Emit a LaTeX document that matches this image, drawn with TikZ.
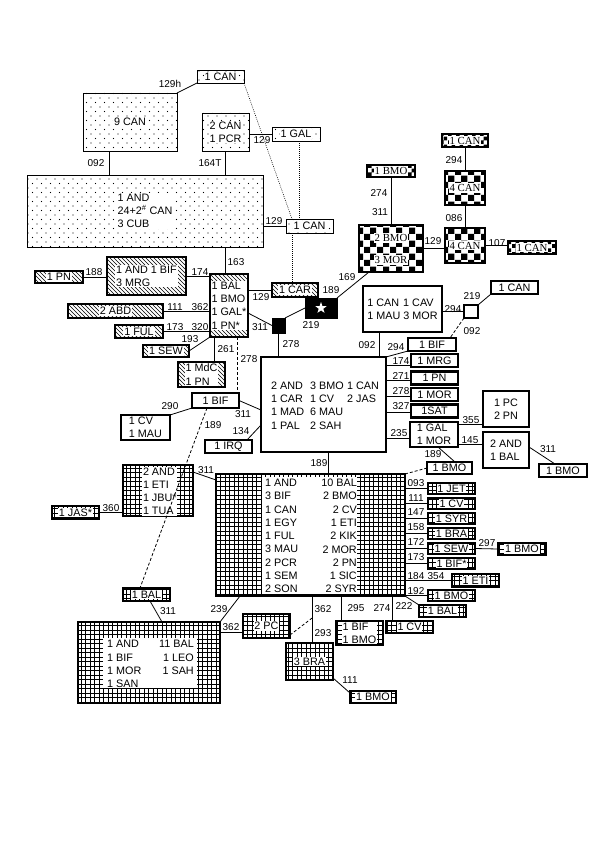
\documentclass[tikz,border=0pt]{standalone}
\usepackage{fontspec}
\setmainfont{Liberation Sans}
\newfontfamily\serifff{Liberation Serif}
\usetikzlibrary{patterns,shapes.geometric,calc}
\pgfdeclarepatternformonly{mydots}{\pgfqpoint{-1pt}{-1pt}}{\pgfqpoint{10pt}{10pt}}{\pgfqpoint{9pt}{9pt}}{\pgfpathcircle{\pgfqpoint{1pt}{1pt}}{0.55pt}\pgfpathcircle{\pgfqpoint{5.5pt}{5.5pt}}{0.55pt}\pgfusepath{fill}}
\pgfdeclarepatternformonly{myhatch}{\pgfqpoint{-1pt}{-1pt}}{\pgfqpoint{5pt}{5pt}}{\pgfqpoint{4pt}{4pt}}{\pgfsetlinewidth{0.6pt}\pgfpathmoveto{\pgfqpoint{0pt}{4pt}}\pgfpathlineto{\pgfqpoint{4.1pt}{-0.1pt}}\pgfusepath{stroke}}
\pgfdeclarepatternformonly{mygrid}{\pgfqpoint{-1pt}{-1pt}}{\pgfqpoint{5.5pt}{5.5pt}}{\pgfqpoint{4.5pt}{4.5pt}}{\pgfsetlinewidth{0.7pt}\pgfpathmoveto{\pgfqpoint{0pt}{-0.1pt}}\pgfpathlineto{\pgfqpoint{0pt}{4.6pt}}\pgfpathmoveto{\pgfqpoint{-0.1pt}{0pt}}\pgfpathlineto{\pgfqpoint{4.6pt}{0pt}}\pgfusepath{stroke}}
\pgfdeclarepatternformonly{chkL}{\pgfpointorigin}{\pgfqpoint{13pt}{13pt}}{\pgfqpoint{13pt}{13pt}}{\pgfpathrectangle{\pgfpointorigin}{\pgfqpoint{6.5pt}{6.5pt}}\pgfpathrectangle{\pgfqpoint{6.5pt}{6.5pt}}{\pgfqpoint{6.5pt}{6.5pt}}\pgfusepath{fill}}
\pgfdeclarepatternformonly{chkS}{\pgfpointorigin}{\pgfqpoint{8pt}{8pt}}{\pgfqpoint{8pt}{8pt}}{\pgfpathrectangle{\pgfpointorigin}{\pgfqpoint{4pt}{4pt}}\pgfpathrectangle{\pgfqpoint{4pt}{4pt}}{\pgfqpoint{4pt}{4pt}}\pgfusepath{fill}}
\newcommand\bxfont{\fontsize{10.8}{13.3}\selectfont}
\newcommand\lbfont{\fontsize{10}{12}\selectfont}
\newcommand\chfont{\serifff\fontsize{10.8}{13}\selectfont}
\begin{document}
\begin{tikzpicture}[x=1pt,y=-1pt,
 bx/.style={draw, line width=0.9pt, inner sep=0pt, outer sep=0pt},
 dotbx/.style={bx, pattern=mydots},
 hatbx/.style={bx, line width=1.1pt, pattern=myhatch},
 grdbx/.style={bx, line width=1.8pt, pattern=mygrid},
 chkbx/.style={bx, line width=1.4pt, pattern=chkL},
 chksbx/.style={bx, line width=1.4pt, pattern=chkS},
 thkbx/.style={bx, line width=2.4pt, fill=white, font=\bxfont},
 blkbx/.style={bx, fill=black},
 txt/.style={inner sep=0.8pt, fill=white, font=\bxfont, align=left},
 txtone/.style={inner sep=0.8pt, fill=white, font=\bxfont, text height=7.8pt, text depth=0.4pt},
 ctxt/.style={inner sep=0.8pt, fill=white, font=\chfont, text height=7.4pt, text depth=0.3pt},
 ptxt/.style={inner sep=0pt, font=\bxfont, align=left},
 lb/.style={inner sep=0pt, font=\lbfont},
 ln/.style={line width=0.8pt},
 dashln/.style={line width=0.8pt, dash pattern=on 3pt off 2pt},
 dotln/.style={line width=0.6pt, dash pattern=on 0.8pt off 1.2pt}]
\useasboundingbox (0,0) rectangle (600,864);
\fill[white] (0,0) rectangle (600,864);

% ---------- dotted boxes
\node[dotbx, minimum width=47, minimum height=13] (can1) at (220.5,76.5) {};
\node[txtone] (can1t) at (can1) {1 CAN};
\node[dotbx, minimum width=94, minimum height=58] (can9) at (130,122) {};
\node[txtone] (can9t) at (can9) {9 CAN};
\node[dotbx, minimum width=47, minimum height=38] (canpcr) at (225.5,132) {};
\node[txt] (canpcrt) at (canpcr) {2 CAN\\1 PCR};
\node[dotbx, minimum width=48, minimum height=14] (gal1) at (296,134) {};
\node[txtone] (gal1t) at (gal1) {1 GAL};
\node[dotbx, minimum width=236, minimum height=72] (big) at (145,211) {};
\node[txt] (bigt) at (big) {1 AND\\24+2\textsuperscript{\#} CAN\\3 CUB};
\node[dotbx, minimum width=47, minimum height=14] (can2) at (309.5,226) {};
\node[txtone] (can2t) at (can2) {1 CAN};

% ---------- hatched boxes
\node[hatbx, minimum width=48, minimum height=12] (pn1) at (59,277) {};
\node[txtone] (pn1t) at (pn1) {1 PN};
\node[hatbx, minimum width=79, minimum height=38] (andbif) at (146.5,276) {};
\node[txt] (andbift) at (andbif) {1 AND 1 BIF\\3 MRG};
\node[hatbx, minimum width=38, minimum height=63] (bal) at (229,305.5) {};
\node[txt] (balt) at (bal) {1 BAL\\1 BMO\\1 GAL*\\1 PN*};
\node[hatbx, minimum width=95, minimum height=14] (abd) at (115.5,311) {};
\node[txtone] (abdt) at (abd) {2 ABD};
\node[hatbx, minimum width=48, minimum height=13] (ful) at (139,331.5) {};
\node[txtone] (fult) at (ful) {1 FUL};
\node[hatbx, minimum width=46, minimum height=12] (sew) at (166,351) {};
\node[txtone] (sewt) at (sew) {1 SEW};
\node[hatbx, minimum width=47, minimum height=25] (mdc) at (201.5,374.5) {};
\node[txt] (mdct) at (mdc) {1 MdC\\1 PN};
\node[hatbx, minimum width=46, minimum height=14] (car) at (295,290) {};
\node[txtone] (cart) at (car) {1 CAR};

% ---------- black boxes
\node[blkbx, minimum width=13, minimum height=15] (sq) at (278.5,325.5) {};
\node[blkbx, minimum width=32, minimum height=20] (star) at (321,308) {};
\node[star, star points=5, star point ratio=2.5, fill=white, inner sep=0pt, minimum size=12pt] (starsym) at (star) {};

% ---------- checker boxes
\node[chksbx, minimum width=48, minimum height=12] (bmoc) at (391,171) {};
\node[ctxt] (bmoct) at (bmoc) {1 BMO};
\node[chkbx, minimum width=64, minimum height=47] (bmomor) at (391,248.5) {};
\node[ctxt] (bmomora) at (391,238) {2 BMO};
\node[ctxt] (bmomorb) at (391,260) {3 MOR};
\node[chkbx, minimum width=40, minimum height=34] (can4a) at (465,188) {};
\node[ctxt] (can4at) at (can4a) {4 CAN};
\node[chkbx, minimum width=40, minimum height=35] (can4b) at (465,245.5) {};
\node[ctxt] (can4bt) at (can4b) {4 CAN};
\node[chksbx, minimum width=46, minimum height=13] (canc1) at (465,140.5) {};
\node[ctxt] (canc1t) at (canc1) {1 CAN};
\node[chksbx, minimum width=48, minimum height=13] (canc2) at (532,247.5) {};
\node[ctxt] (canc2t) at (canc2) {1 CAN};

% ---------- white thick boxes
\node[thkbx, minimum width=125, minimum height=95] (main) at (323.5,404.5) {};
\node[ptxt, anchor=west] (mainc1) at (271,405.5) {2 AND\\1 CAR\\1 MAD\\1 PAL};
\node[ptxt, anchor=west] (mainc2) at (310,405.5) {3 BMO\\1 CV\\6 MAU\\2 SAH};
\node[ptxt, anchor=west] (mainc3) at (347,392) {1 CAN\\2 JAS};
\node[thkbx, minimum width=79, minimum height=46, align=left] (cancav) at (402.5,309) {1 CAN\hspace{4pt}1 CAV\\1 MAU 3 MOR};
\node[thkbx, minimum width=14, minimum height=13] (wsq) at (471,311.5) {};
\node[thkbx, minimum width=47, minimum height=13] (canr) at (514.5,287.5) {1 CAN};
\node[thkbx, minimum width=48, minimum height=13] (bif) at (432,344.5) {1 BIF};
\node[thkbx, minimum width=47, minimum height=13] (mrg) at (434.5,360.5) {1 MRG};
\node[thkbx, minimum width=47, minimum height=13] (pn2) at (434.5,378) {1 PN};
\node[thkbx, minimum width=47, minimum height=13] (mor) at (434.5,394.5) {1 MOR};
\node[thkbx, minimum width=47, minimum height=13] (sat) at (434.5,411) {1SAT};
\node[thkbx, minimum width=48, minimum height=25, align=left] (galmor) at (434,434.5) {1 GAL\\1 MOR};
\node[thkbx, minimum width=46, minimum height=36, align=center] (pc) at (506,409) {1 PC\\2 PN};
\node[thkbx, minimum width=46, minimum height=36, align=left] (andbal) at (506,450) {2 AND\\1 BAL};
\node[thkbx, minimum width=48, minimum height=13] (bmor) at (563,470.5) {1 BMO};
\node[thkbx, minimum width=45, minimum height=12] (bmo2) at (449.5,468) {1 BMO};
\node[thkbx, minimum width=47, minimum height=15] (bif2) at (215.5,400.5) {1 BIF};
\node[thkbx, minimum width=49, minimum height=25, align=left] (cvmau) at (145.5,427.5) {1 CV\\1 MAU};
\node[thkbx, minimum width=47, minimum height=13] (irq) at (228.5,446.5) {1 IRQ};

% ---------- grid boxes
\node[grdbx, minimum width=189, minimum height=122] (gbig) at (310.5,535) {};
\node[fill=white, inner sep=0pt, minimum width=95, minimum height=117] (gbigin) at (309.5,535.5) {};
\node[ptxt, anchor=west] (gbl) at (265,536) {1 AND\\3 BIF\\1 CAN\\1 EGY\\1 FUL\\3 MAU\\2 PCR\\1 SEM\\2 SON};
\node[ptxt, anchor=east, align=right] (gbr) at (357,536) {10 BAL\\2 BMO\\2 CV\\1 ETI\\2 KIK\\2 MOR\\2 PN\\1 SIC\\2 SYR};
\node[grdbx, minimum width=70, minimum height=51] (g2and) at (158,490.5) {};
\node[txt, anchor=west, font=\fontsize{10.8}{13}\selectfont] (g2andt) at (142,491.5) {2 AND\\1 ETI\\1 JBU*\\1 TUA};
\node[grdbx, minimum width=47, minimum height=13] (jas) at (75.5,512.5) {};
\node[txtone] (jast) at (jas) {1 JAS*};
\node[grdbx, minimum width=47, minimum height=13] (gbal1) at (146.5,594.5) {};
\node[txtone] (gbal1t) at (gbal1) {1 BAL};
\node[grdbx, minimum width=142, minimum height=81] (gll) at (149,662.5) {};
\node[fill=white, inner sep=0pt, minimum width=94, minimum height=50] (gllin) at (150,663) {};
\node[ptxt, anchor=west] (glll) at (107,664) {1 AND\\1 BIF\\1 MOR\\1 SAN};
\node[ptxt, anchor=east, align=right] (gllr) at (194,657.5) {11 BAL\\1 LEO\\1 SAH};
\node[grdbx, minimum width=47, minimum height=24] (pc2) at (266.5,626) {};
\node[txtone] (pc2t) at (pc2) {2 PC};
\node[grdbx, minimum width=47, minimum height=37] (bra3) at (309.5,661.5) {};
\node[txtone] (bra3t) at (bra3) {3 BRA};
\node[grdbx, minimum width=47, minimum height=24] (bifbmo) at (359.5,633) {};
\node[txt] (bifbmot) at (bifbmo) {1 BIF\\1 BMO};
\node[grdbx, minimum width=47, minimum height=12] (cv3) at (409.5,627) {};
\node[txtone] (cv3t) at (cv3) {1 CV};
\node[grdbx, minimum width=46, minimum height=12] (bmo3) at (373,697) {};
\node[txtone] (bmo3t) at (bmo3) {1 BMO};
\node[grdbx, minimum width=47, minimum height=11] (rjet) at (451.5,488.5) {};
\node[txtone] (rjett) at (rjet) {1 JET};
\node[grdbx, minimum width=47, minimum height=11] (rcv) at (451.5,503.5) {};
\node[txtone] (rcvt) at (rcv) {1 CV};
\node[grdbx, minimum width=47, minimum height=11] (rsyr) at (451.5,518.5) {};
\node[txtone] (rsyrt) at (rsyr) {1 SYR};
\node[grdbx, minimum width=47, minimum height=11] (rbra) at (451.5,533.5) {};
\node[txtone] (rbrat) at (rbra) {1 BRA};
\node[grdbx, minimum width=47, minimum height=11] (rsew) at (451.5,548.5) {};
\node[txtone] (rsewt) at (rsew) {1 SEW};
\node[grdbx, minimum width=47, minimum height=11] (rbif) at (451.5,563.5) {};
\node[txtone] (rbift) at (rbif) {1 BIF*};
\node[grdbx, minimum width=47, minimum height=13] (reti) at (475.5,580.5) {};
\node[txtone] (retit) at (reti) {1 ETI};
\node[grdbx, minimum width=47, minimum height=11] (rbmo) at (451.5,595.5) {};
\node[txtone] (rbmot) at (rbmo) {1 BMO};
\node[grdbx, minimum width=47, minimum height=12] (rbal) at (442.5,611) {};
\node[txtone] (rbalt) at (rbal) {1 BAL};
\node[grdbx, minimum width=48, minimum height=12] (bmo297) at (522,549) {};
\node[txtone] (bmo297t) at (bmo297) {1 BMO};

% ---------- helper coordinates
\coordinate (c9b) at ([xshift=-21pt]can9.south);
\coordinate (balT) at ([xshift=-4pt]bal.north);
\coordinate (balM) at ([xshift=-15pt]bal.south);
\coordinate (balD) at ([xshift=8pt]bal.south);
\coordinate (balG) at ([yshift=-7.5pt]bal.east);
\coordinate (bmT) at ([xshift=10pt]bmomor.south west);
\coordinate (cvB) at ([xshift=-23.5pt]cancav.south);
\coordinate (bifD) at ([xshift=-6pt]bif.north east);
\coordinate (mrgL) at ([yshift=-5pt]mrg.west);
\coordinate (pnL) at ([yshift=-2pt]pn2.west);
\coordinate (morL) at ([yshift=-1.5pt]mor.west);
\coordinate (satL) at ([yshift=-1pt]sat.west);
\coordinate (gmL) at ([yshift=-3.5pt]galmor.west);
\coordinate (gmA) at ([yshift=10pt]galmor.east);
\coordinate (gmB) at ([yshift=-10pt]galmor.east);
\coordinate (abR) at ([yshift=3pt]andbal.east);
\coordinate (bmrT) at ([xshift=16pt]bmor.north west);
\coordinate (gmS) at ([xshift=4pt]galmor.south);
\coordinate (bmo2T) at ([xshift=28pt]bmo2.north west);
\coordinate (mainA) at ([yshift=-5.5pt]main.west);
\coordinate (mainB) at ([yshift=-20.5pt]main.west);
\coordinate (irqT) at ([xshift=-5pt]irq.north east);
\coordinate (mainS) at ([xshift=4.5pt]main.south);
\coordinate (g2R) at ([yshift=-7pt]g2and.north east);
\coordinate (gbL) at ([yshift=-6pt]gbig.north west);
\coordinate (bif2B) at ([xshift=-8.5pt]bif2.south);
\coordinate (gb1T) at ([xshift=-6.5pt]gbal1.north);
\coordinate (gb1B) at ([xshift=3.5pt]gbal1.south);
\coordinate (gllT) at ([xshift=13pt]gll.north);
\coordinate (gbBL) at ([xshift=24pt]gbig.south west);
\coordinate (gllR) at ([yshift=30.5pt]gll.east);
\coordinate (b3T) at ([xshift=2.5pt]bra3.north);
\coordinate (b3M) at ($(b3T |- gbig.south)!0.47!(b3T)$);
\coordinate (pc2D) at ([yshift=3pt]pc2.south east);
\coordinate (b3R) at ([yshift=2pt]bra3.south east);
\coordinate (bmo3T) at ([yshift=-2pt]bmo3.north west);
\coordinate (bbT) at ([xshift=5pt]bifbmo.north west);
\coordinate (cv3T) at ([xshift=6pt]cv3.north west);
\coordinate (can2D) at ([xshift=6pt]can2.north west);
\coordinate (galD) at ([xshift=3pt]gal1.south);
\coordinate (can2B) at ([xshift=-17.5pt]can2.south);

% ---------- connectors
\draw[ln] (can9.north east) -- (can1.south west);
\draw[ln] (c9b) -- (c9b |- big.north);
\draw[ln] (canpcr.south) -- (canpcr.south |- big.north);
\draw[ln] (canpcr.east |- gal1.west) -- (gal1.west);
\draw[ln] (big.east |- can2.west) -- (can2.west);
\draw[ln] (balT |- big.south) -- (balT);
\draw[ln] (pn1.east) -- (pn1.east -| andbif.west);
\draw[ln] (andbif.east) -- (andbif.east -| bal.west);
\draw[ln] (abd.east) -- (abd.east -| bal.west);
\draw[ln] (ful.east) -- (ful.east -| bal.west);
\draw[ln] (bal.south west) -- (sew.east);
\draw[ln] (balM) -- (balM |- mdc.north);
\draw[dashln] (balD) -- (balD |- bif2.north);
\draw[ln] (car.west -| bal.east) -- (car.west);
\draw[ln] (balG) -- (sq.west);
\draw[ln] (sq.north east) -- (star.west);
\draw[ln] (star.north east) -- (bmT);
\draw[ln] (sq.south) -- (sq.south |- main.north);
\draw[ln] (bmoc.south) -- (bmomor.north);
\draw[ln] (bmomor.east) -- (bmomor.east -| can4b.west);
\draw[ln] (canc1.south) -- (can4a.north);
\draw[ln] (can4a.south) -- (can4b.north);
\draw[ln] (can4b.east) -- (can4b.east -| canc2.west);
\draw[ln] (cvB) -- (cvB |- main.north);
\draw[ln] (cancav.east |- wsq.west) -- (wsq.west);
\draw[ln] (wsq.north east) -- (canr.south west);
\draw[dashln] (wsq.south west) -- (bifD);
\draw[ln] (main.north east) -- (bif.south west);
\draw[ln] (mrgL -| main.east) -- (mrgL);
\draw[ln] (pnL -| main.east) -- (pnL);
\draw[ln] (morL -| main.east) -- (morL);
\draw[ln] (satL -| main.east) -- (satL);
\draw[ln] (gmL -| main.east) -- (gmL);
\draw[ln] (gmA) -- (gmA -| pc.west);
\draw[ln] (gmB) -- (gmB -| andbal.west);
\draw[ln] (abR) -- (bmrT);
\draw[ln] (gmS) -- (bmo2T);
\draw[ln] (bif2.south west) -- (cvmau.north east);
\draw[ln] (bif2.east) -- (mainA);
\draw[ln] (irqT) -- (mainB);
\draw[ln] (mainS) -- (mainS |- gbig.north);
\draw[ln] (g2R) -- (gbL);
\draw[ln] (jas.east) -- (jas.east -| g2and.west);
\draw[dashln] (bif2B) -- (gb1T);
\draw[ln] (gb1B) -- (gllT);
\draw[ln] (gll.north east) -- (gbBL);
\draw[ln] (gllR) -- (gllR -| pc2.west);
\draw[ln] (b3T |- gbig.south) -- (b3T);
\draw[dashln] (pc2D) -- (b3M);
\draw[ln] (b3R) -- (bmo3T);
\draw[ln] (bbT |- gbig.south) -- (bbT);
\draw[ln] (cv3T |- gbig.south) -- (cv3T);
\draw[ln] (gbig.south east) -- (rbal.north west);
\draw[dashln] (gbig.north east) -- (bmo2.west);
\foreach \r in {rjet,rcv,rsyr,rbra,rsew,rbif,reti,rbmo}
  \draw[ln] (\r.west -| gbig.east) -- (\r.west);
\draw[ln] (rsew.east) -- (bmo297.west);
\draw[dotln] (can1.south east) -- (can2D);
\draw[dotln] (galD) -- (galD |- can2.north);
\draw[dotln] (can2B) -- (can2B |- car.north);

% ---------- labels
\node[lb] (l01) at (170,84) {129h};
\node[lb] (l02) at (96,163) {092};
\node[lb] (l03) at (210,163) {164T};
\node[lb] (l04) at (262,140) {129};
\node[lb] (l05) at (274,221) {129};
\node[lb] (l06) at (236,262) {163};
\node[lb] (l07) at (94,272) {188};
\node[lb] (l08) at (200,272) {174};
\node[lb] (l09) at (175,307) {111};
\node[lb] (l10) at (200,307) {362};
\node[lb] (l11) at (175,327) {173};
\node[lb] (l12) at (200,327) {320};
\node[lb] (l13) at (190,339) {193};
\node[lb] (l14) at (226,349) {261};
\node[lb] (l15) at (249,359) {278};
\node[lb] (l16) at (261,297) {129};
\node[lb] (l17) at (260,327) {311};
\node[lb] (l18) at (311,325) {219};
\node[lb] (l19) at (331,290) {189};
\node[lb] (l20) at (347,277) {169};
\node[lb] (l21) at (291,344) {278};
\node[lb] (l22) at (379,193) {274};
\node[lb] (l23) at (380,212) {311};
\node[lb] (l24) at (433,241) {129};
\node[lb] (l25) at (454,160) {294};
\node[lb] (l26) at (454,218) {086};
\node[lb] (l27) at (497,243) {107};
\node[lb] (l28) at (367,345) {092};
\node[lb] (l29) at (453,309) {294};
\node[lb] (l30) at (472,296) {219};
\node[lb] (l31) at (472,331) {092};
\node[lb] (l32) at (396,347) {294};
\node[lb] (l33) at (401,361) {174};
\node[lb] (l34) at (401,376) {271};
\node[lb] (l35) at (401,391) {278};
\node[lb] (l36) at (401,406) {327};
\node[lb] (l37) at (399,433) {235};
\node[lb] (l38) at (471,420) {355};
\node[lb] (l39) at (470,440) {145};
\node[lb] (l40) at (548,449) {311};
\node[lb] (l41) at (433,454) {189};
\node[lb] (l42) at (170,406) {290};
\node[lb] (l43) at (243,414) {311};
\node[lb] (l44) at (241,431) {134};
\node[lb] (l45) at (213,425) {189};
\node[lb] (l46) at (319,463) {189};
\node[lb] (l47) at (206,470) {311};
\node[lb] (l48) at (111,508) {360};
\node[lb] (l49) at (168,611) {311};
\node[lb] (l50) at (219,609) {239};
\node[lb] (l51) at (231,627) {362};
\node[lb] (l52) at (323,609) {362};
\node[lb] (l53) at (323,633) {293};
\node[lb] (l54) at (350,680) {111};
\node[lb] (l55) at (356,608) {295};
\node[lb] (l56) at (382,608) {274};
\node[lb] (l57) at (404,606) {222};
\node[lb] (l58) at (416,483) {093};
\node[lb] (l59) at (416,498) {111};
\node[lb] (l60) at (416,512) {147};
\node[lb] (l61) at (416,527) {158};
\node[lb] (l62) at (416,542) {172};
\node[lb] (l63) at (416,557) {173};
\node[lb] (l64) at (416,576) {184};
\node[lb] (l65) at (436,576) {354};
\node[lb] (l66) at (416,591) {192};
\node[lb] (l67) at (487,543) {297};
\end{tikzpicture}
\end{document}
